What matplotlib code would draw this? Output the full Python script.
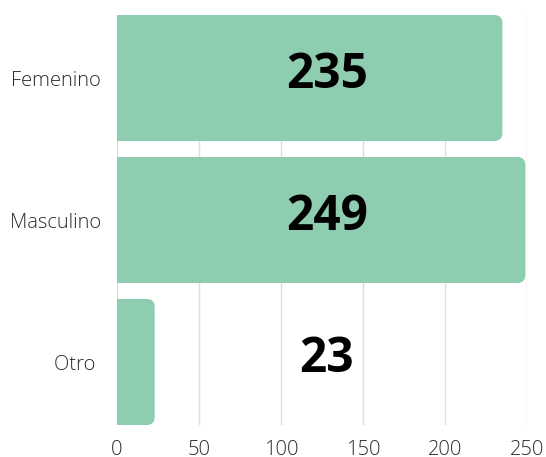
import matplotlib.pyplot as plt
from matplotlib.patches import FancyBboxPatch, Rectangle

categorias = ['Femenino', 'Masculino', 'Otro ']
valores = [235, 249, 23]
ticks_x = [0, 50, 100, 150, 200, 250]

color_barra = '#8ECDB0'
color_texto = '#2b2b2b'

plt.rcParams['font.family'] = ['Open Sans', 'DejaVu Sans']

fig = plt.figure(figsize=(5.46, 4.57), dpi=100)
ax = fig.add_axes([117 / 546, 1 - 425 / 457, 410 / 546, 410 / 457])

# barras de 126 px con huecos de 16 px
alto = 126 / 142
ax.set_xlim(0, 250)
ax.set_ylim(2 + alto / 2, -alto / 2)
ax.set_xticks(ticks_x)
ax.set_yticks(range(len(categorias)))
ax.set_yticklabels(categorias)
ax.tick_params(length=0, labelsize=14.5, colors=color_texto)
ax.tick_params(axis='x', pad=11)
ax.tick_params(axis='y', pad=11.5)
for lbl in ax.get_xticklabels() + ax.get_yticklabels():
    lbl.set_fontweight('light')
for s in ax.spines.values():
    s.set_visible(False)
ax.grid(axis='x', color='#dddddd', lw=1)
ax.set_axisbelow(True)

# esquinas redondeadas solo a la derecha
px_x = 410 / 250
px_y = 142
r_px = 8
r = r_px / px_x
aspecto = px_x / px_y
for i, v in enumerate(valores):
    y0 = i - alto / 2
    caja = FancyBboxPatch((0, y0), v, alto,
                          boxstyle='round,pad=0,rounding_size=%f' % r,
                          mutation_aspect=aspecto,
                          fc=color_barra, ec='none', zorder=2)
    ax.add_patch(caja)
    ax.add_patch(Rectangle((0, y0), min(r, v / 2), alto, fc=color_barra, ec='none', zorder=2))
    ax.text(128, i - 0.015, str(v), ha='center', va='center', fontsize=34.5,
            fontweight='bold', color='black', zorder=3)

fig.savefig('out.png', dpi=100)
